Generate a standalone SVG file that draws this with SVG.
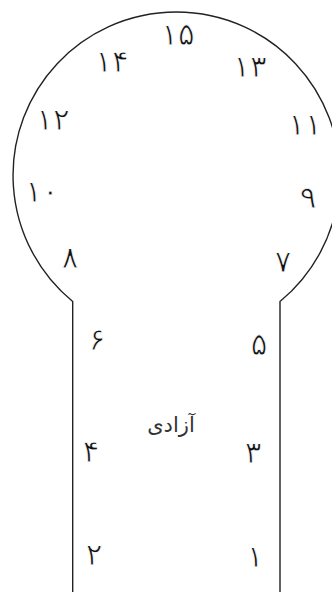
<svg xmlns="http://www.w3.org/2000/svg" width="332" height="592" viewBox="0 0 332 592">
<style>
.outline{fill:none;stroke:#222;stroke-width:1.4}
.num{font-family:"DejaVu Sans","Noto Sans",sans-serif;font-size:31px;fill:#111;stroke:#fff;stroke-width:0.8;text-anchor:middle}
.pair{letter-spacing:5px}
.lbl{font-family:"DejaVu Sans","Noto Sans",sans-serif;font-size:21px;fill:#333;text-anchor:middle}
</style>
<rect width="332" height="592" fill="#fff"/>
<g id="keyhole">
<path class="outline" d="M72.7,592 L72.7,301.5 A163.3,163.3 0 1 1 280,301.5 L280,592"/>
</g>
<g id="labels">
<text id="n15" class="num pair" x="178" y="45">۱۵</text>
<text id="n14" class="num pair" x="112" y="72">۱۴</text>
<text id="n13" class="num pair" x="250" y="77">۱۳</text>
<text id="n12" class="num pair" x="53" y="130">۱۲</text>
<text id="n11" class="num pair" x="305" y="135">۱۱</text>
<text id="n10" class="num pair" x="42" y="202">۱۰</text>
<text id="n9" class="num" x="308" y="208">۹</text>
<text id="n8" class="num" x="70" y="268">۸</text>
<text id="n7" class="num" x="283" y="272">۷</text>
<text id="n6" class="num" x="97" y="350">۶</text>
<text id="n5" class="num" x="259" y="355">۵</text>
<text id="n4" class="num" x="91" y="462">۴</text>
<text id="n3" class="num" x="253" y="463">۳</text>
<text id="n2" class="num" x="94" y="565">۲</text>
<text id="n1" class="num" x="255" y="567">۱</text>
<text id="title" class="lbl" x="171" y="432">آزادی</text>
</g>
</svg>
